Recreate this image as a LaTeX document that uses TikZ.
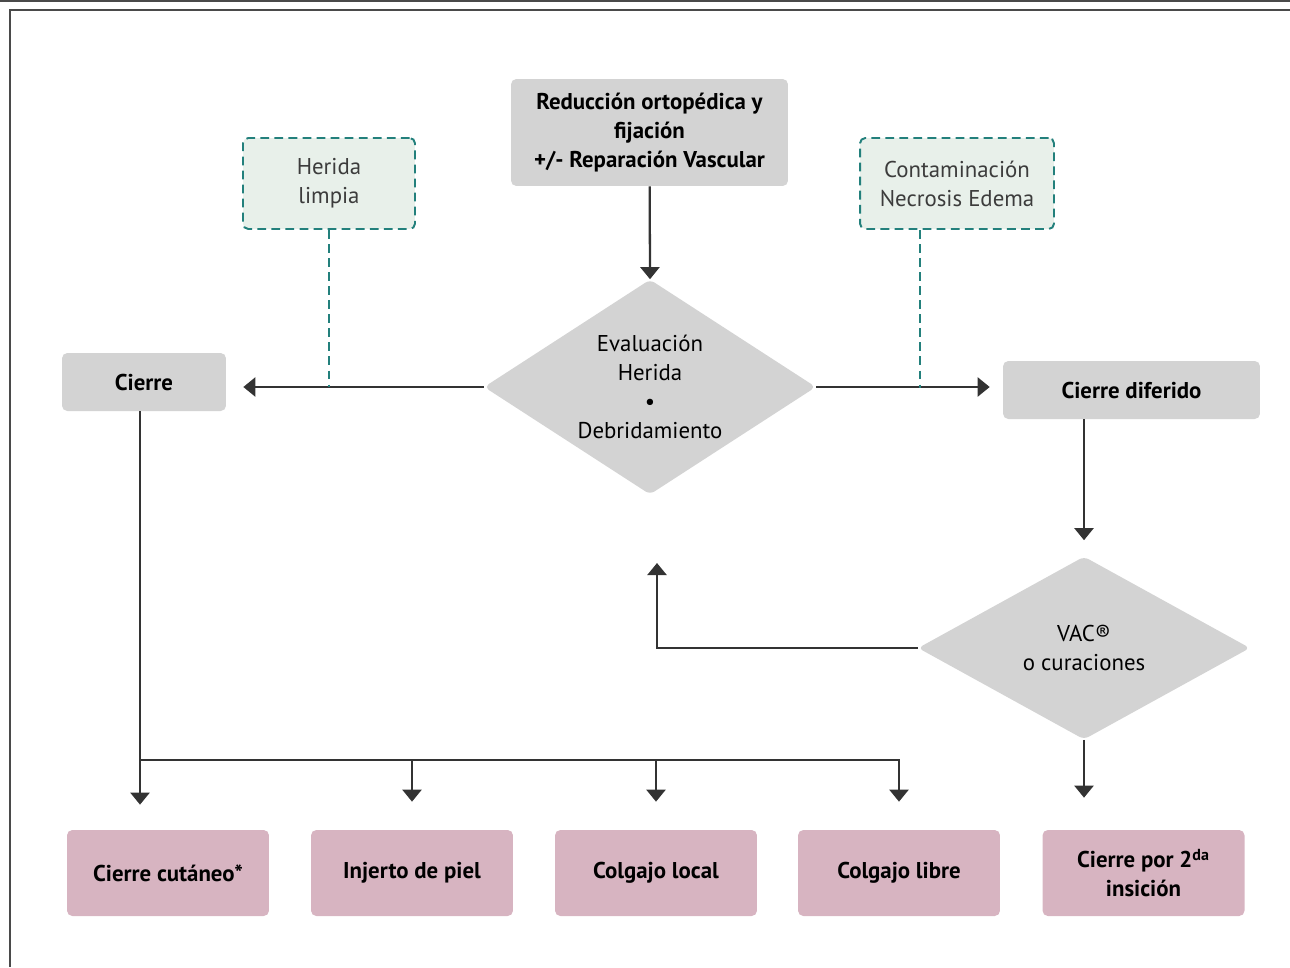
\documentclass[tikz,border=0pt]{standalone}
\usepackage{fontspec}
\setmainfont{PT Sans}
\usetikzlibrary{shapes.geometric, arrows.meta}
\definecolor{boxgray}{HTML}{D3D3D3}
\definecolor{boxpink}{HTML}{D7B4C1}
\definecolor{boxgreen}{HTML}{E8F0EA}
\definecolor{dashteal}{HTML}{23807C}
\definecolor{linegray}{HTML}{333333}
\definecolor{framegray}{HTML}{4A4A4A}
\definecolor{textgray}{HTML}{3C3C3C}

\begin{document}
\begin{tikzpicture}[x=0.02cm, y=-0.02cm,
	txt/.style={font=\fontsize{13}{16.5}\selectfont, align=center, inner sep=0pt},
	graybox/.style={txt, shape=rectangle, fill=boxgray, rounded corners=3pt, font=\fontsize{13}{16.5}\selectfont\bfseries},
	pinkbox/.style={txt, shape=rectangle, fill=boxpink, rounded corners=3pt, minimum width=4.04cm, minimum height=1.72cm, font=\fontsize{13}{16.5}\selectfont\bfseries},
	notebox/.style={txt, shape=rectangle, fill=boxgreen, draw=dashteal, dashed, line width=1.1pt, dash pattern=on 5pt off 3pt, rounded corners=3pt, minimum height=1.82cm, text=textgray},
	decision/.style={txt, shape=diamond, fill=boxgray, rounded corners=3pt, minimum width=6.64cm},
	arr/.style={draw=linegray, line width=1.3pt, -{Triangle[width=0.38cm, length=0.24cm]}},
	wire/.style={draw=linegray, line width=1.3pt},
	dashwire/.style={draw=dashteal, line width=1.1pt, dash pattern=on 5pt off 3pt}]
	\useasboundingbox (0,0) rectangle (1290,967);
	% Frame:
	\draw[framegray, line width=1.2pt] (0,1) -- (1290,1);
	\draw[framegray, line width=1.2pt] (1290,10) -- (10,10) -- (10,967);
	% Boxes:
	\node[graybox, minimum width=5.54cm, minimum height=2.14cm] (reduccion) at (649.5,132.5) {Reducción ortopédica y\\fijación\\+/- Reparación Vascular};
	\node[notebox, minimum width=3.44cm] (limpia) at (329,183.5) {Herida\\limpia};
	\node[notebox, minimum width=3.88cm] (contaminacion) at (957,183.5) {Contaminación\\Necrosis Edema};
	\node[decision, aspect=1.6, minimum height=4.3cm] (evaluacion) at (650,387) {Evaluación\\Herida\\\textbullet\\Debridamiento};
	\node[graybox, minimum width=3.28cm, minimum height=1.16cm] (cierre) at (144,382) {Cierre};
	\node[graybox, minimum width=5.14cm, minimum height=1.16cm] (diferido) at (1131.5,390) {Cierre diferido};
	\node[decision, aspect=1.9, minimum height=3.66cm] (vac) at (1084,648) {VAC®\\o curaciones};
	\node[pinkbox] (cutaneo) at (168,873) {Cierre cutáneo*};
	\node[pinkbox] (injerto) at (412,873) {Injerto de piel};
	\node[pinkbox] (local) at (656,873) {Colgajo local};
	\node[pinkbox] (libre) at (899,873) {Colgajo libre};
	\node[pinkbox] (segunda) at (1143.5,873) {Cierre por 2\textsuperscript{da}\\insición};
	% Paths and wires:
	\coordinate (retorno) at (657,563);
	\coordinate (bus) at (140,760);
	\coordinate (corte) at (920,388);
	\draw[arr] (reduccion) -- (evaluacion.north);
	\draw[arr, shorten >=0.34cm] (evaluacion.west) -- (evaluacion.west -| cierre.east);
	\draw[arr, shorten >=0.26cm] (evaluacion.east) -- (evaluacion.east -| diferido.west);
	\draw[dashwire] (limpia.south) -- (limpia.south |- evaluacion.west);
	\draw[dashwire] (contaminacion.south -| corte) -- (corte);
	\draw[arr, shorten >=0.32cm] (diferido.south -| vac.north) -- (vac.north);
	\draw[arr] (vac.west) -| (retorno);
	\draw[arr, shorten >=0.64cm] (vac.south) -- (vac.south |- segunda.north);
	\draw[wire] (cierre.south -| bus) -- (bus);
	\draw[arr, shorten >=0.5cm] (bus) -- (bus |- cutaneo.north);
	\draw[arr, shorten >=0.56cm] (bus) -| (injerto.north);
	\draw[arr, shorten >=0.56cm] (bus) -| (local.north);
	\draw[arr, shorten >=0.56cm] (bus) -| (libre.north);
\end{tikzpicture}
\end{document}
